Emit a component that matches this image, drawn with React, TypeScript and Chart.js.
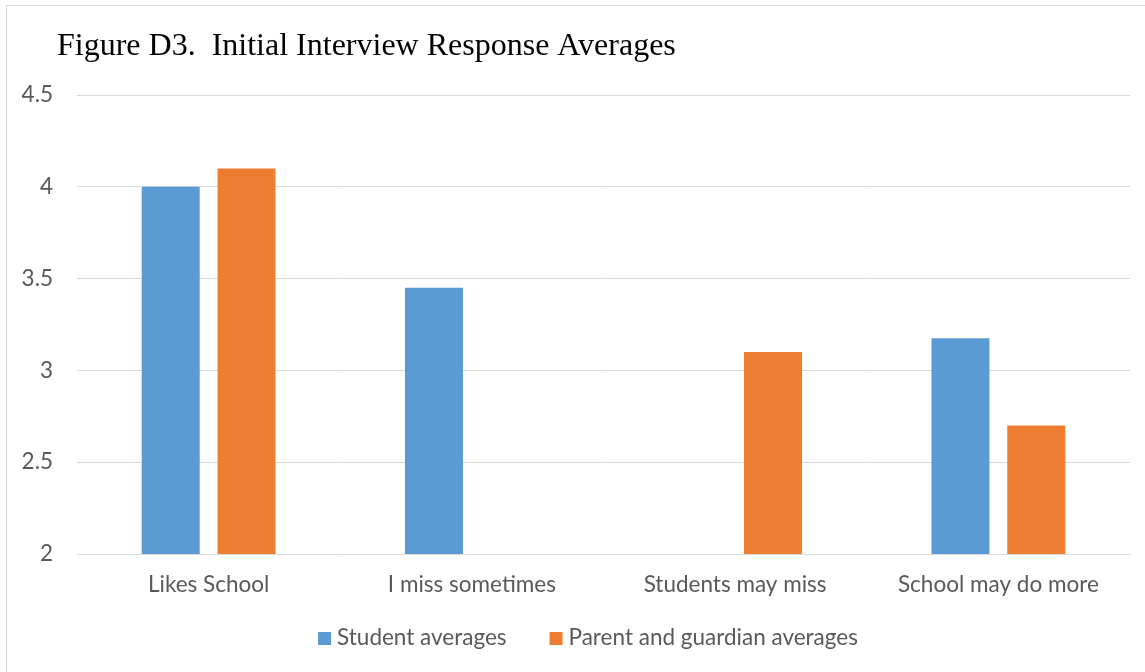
import React, { useEffect, useRef } from "react";
import { Chart, registerables } from "chart.js";

Chart.register(...registerables);

const titleText = "Figure D3.  Initial Interview Response Averages";
const categories = ["Likes School", "I miss sometimes", "Students may miss", "School may do more"];
const seriesNames = ["Student averages", "Parent and guardian averages"];
const studentAverages: (number | null)[] = [4.0, 3.45, null, 3.175];
const parentAverages: (number | null)[] = [4.1, null, 3.1, 2.7];
const yTickLabels = ["2", "2.5", "3", "3.5", "4", "4.5"];
const yMin = 2;
const yMax = 4.5;
const yStep = 0.5;

const BLUE = "#5B9BD5";
const ORANGE = "#ED7D31";
const GRID = "#D9D9D9";
const TEXT = "#595959";
const SANS = "Lato";
const FONT_SIZE = 22.5;
const SERIF = "'Liberation Serif', 'Times New Roman', serif";

const CANVAS_W = 1162;
const CANVAS_H = 680;

const titlePlugin = {
  id: "excelTitle",
  afterDraw(chart: any) {
    const ctx = chart.ctx as CanvasRenderingContext2D;
    ctx.save();
    ctx.font = `32px ${SERIF}`;
    ctx.fillStyle = "#000000";
    ctx.textAlign = "left";
    ctx.textBaseline = "alphabetic";
    ctx.fillText(titleText, chart.chartArea.left - 20, chart.chartArea.top - 40);
    ctx.restore();
  },
};

const legendPlugin = {
  id: "excelLegend",
  afterDraw(chart: any) {
    const ctx = chart.ctx as CanvasRenderingContext2D;
    ctx.save();
    ctx.font = `${FONT_SIZE}px ${SANS}`;
    const box = 13;
    const gap = 6;
    const itemGap = 43;
    const items = chart.data.datasets.map((ds: any) => ({
      label: ds.label as string,
      color: ds.backgroundColor as string,
      w: ctx.measureText(ds.label).width,
    }));
    const total =
      items.reduce((s: number, it: any) => s + box + gap + it.w, 0) + itemGap * (items.length - 1);
    let x = chart.width / 2 - total / 2;
    const baseY = chart.chartArea.bottom + 91;
    ctx.textBaseline = "alphabetic";
    ctx.textAlign = "left";
    for (const it of items) {
      ctx.fillStyle = it.color;
      ctx.fillRect(x, baseY - 13, box, box);
      x += box + gap;
      ctx.fillStyle = TEXT;
      ctx.fillText(it.label, x, baseY);
      x += it.w + itemGap;
    }
    ctx.restore();
  },
};

export default function App() {
  const ref = useRef<HTMLCanvasElement | null>(null);

  useEffect(() => {
    if (!ref.current) return;
    const chart = new Chart(ref.current, {
      type: "bar",
      data: {
        labels: categories,
        datasets: [
          {
            label: seriesNames[0],
            data: studentAverages,
            backgroundColor: BLUE,
            borderWidth: 0,
            categoryPercentage: 0.576,
            barPercentage: 0.765,
          },
          {
            label: seriesNames[1],
            data: parentAverages,
            backgroundColor: ORANGE,
            borderWidth: 0,
            categoryPercentage: 0.576,
            barPercentage: 0.765,
          },
        ],
      },
      options: {
        responsive: false,
        animation: false,
        devicePixelRatio: 1,
        layout: { padding: { top: 90, left: 10, right: 39, bottom: 71 } },
        plugins: {
          legend: { display: false },
          tooltip: { enabled: false },
          title: { display: false },
        },
        scales: {
          x: {
            grid: { display: false, drawTicks: false },
            border: { display: true, color: GRID, width: 1 },
            ticks: {
              color: TEXT,
              font: { family: SANS, size: FONT_SIZE },
              padding: 17,
              maxRotation: 0,
              autoSkip: false,
            },
            afterFit: (scale: any) => {
              scale.height = 60;
            },
          },
          y: {
            min: yMin,
            max: yMax,
            grid: { color: GRID, lineWidth: 1, drawTicks: false },
            border: { display: false },
            ticks: {
              stepSize: yStep,
              color: TEXT,
              font: { family: SANS, size: FONT_SIZE },
              padding: 24,
              callback: (_v: any, i: number) => yTickLabels[i],
            },
            afterFit: (scale: any) => {
              scale.width = 60;
            },
          },
        },
      },
      plugins: [titlePlugin, legendPlugin],
    });
    return () => chart.destroy();
  }, []);

  return (
    <div
      style={{
        position: "fixed",
        left: 0,
        top: 0,
        width: 1145,
        height: 672,
        overflow: "hidden",
        background: "#ffffff",
      }}
    >
      <div
        style={{
          position: "absolute",
          left: 6,
          top: 5,
          width: 1200,
          height: 720,
          border: "1px solid #D9D9D9",
          boxSizing: "border-box",
        }}
      />
      <canvas
        ref={ref}
        width={CANVAS_W}
        height={CANVAS_H}
        style={{ position: "absolute", left: 7, top: 5, width: CANVAS_W, height: CANVAS_H }}
      />
    </div>
  );
}
